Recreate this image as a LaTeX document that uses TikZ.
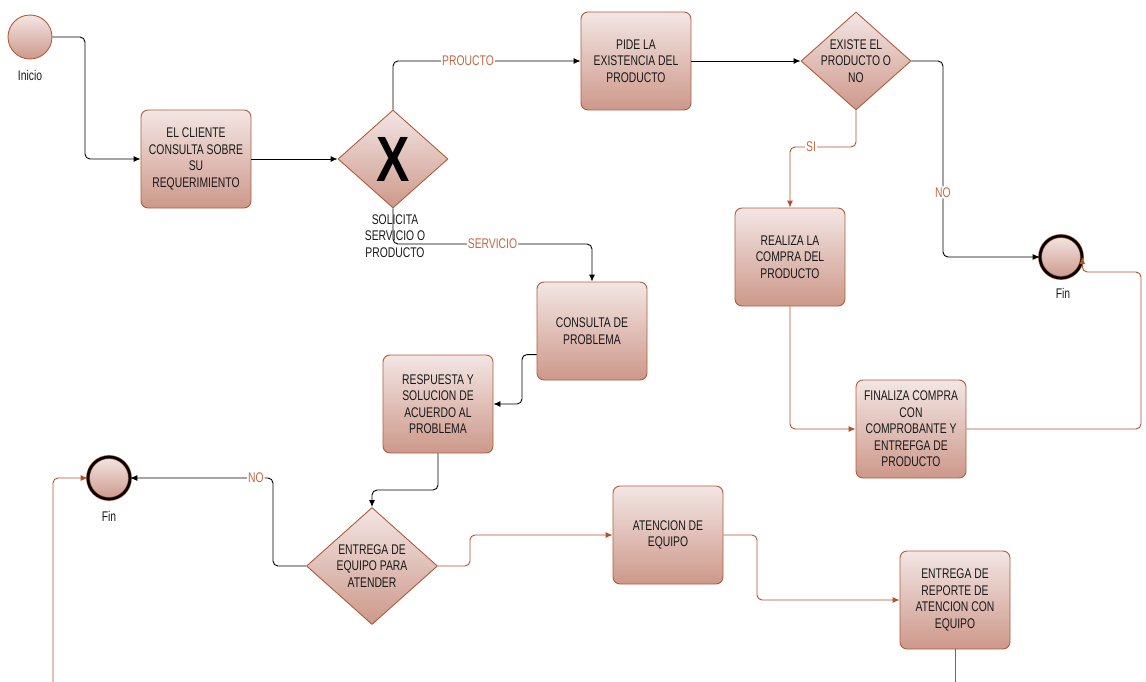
\documentclass[tikz,border=0pt]{standalone}
\usepackage{fontspec}
\newfontfamily\diagfont{Liberation Sans}[FakeStretch=0.74]
\newfontfamily\bigxfont{Liberation Sans}[FakeStretch=0.78]
\usetikzlibrary{shapes.geometric,arrows.meta,calc}

\definecolor{topc}{RGB}{243,230,228}
\definecolor{botc}{RGB}{205,152,138}
\definecolor{bordc}{RGB}{176,92,58}
\definecolor{edgeo}{RGB}{176,82,44}
\definecolor{labc}{RGB}{194,104,66}
\definecolor{txtc}{RGB}{25,25,25}

\tikzset{
  txt/.style={font=\diagfont\fontsize{14}{16.5}\selectfont, text=txtc, align=center},
  task/.style={rounded corners=7, draw=bordc, line width=0.9, top color=topc, bottom color=botc,
               minimum width=110, minimum height=98, inner sep=0, txt},
  gate/.style={diamond, draw=bordc, line width=0.9, top color=topc, bottom color=botc, inner sep=0},
  startev/.style={circle, draw=bordc, line width=0.9, top color=topc, bottom color=botc,
                  minimum size=44, inner sep=0},
  endev/.style={circle, draw=bordc, double=black, double distance=2.6, line width=0.6,
                top color=topc, bottom color=botc, minimum size=42, inner sep=0},
  lab/.style={fill=white, text=labc, inner sep=1, font=\diagfont\fontsize{14}{15}\selectfont},
  blk/.style={draw=black, line width=0.9, rounded corners=5, -{Latex[length=7,width=6]}},
  org/.style={draw=edgeo, line width=0.9, rounded corners=5, -{Latex[length=7,width=6]}},
}

\begin{document}
\begin{tikzpicture}[x=1pt,y=-1pt]
\useasboundingbox (0,0) rectangle (1146,682);

% events
\node[startev] (start) at (30,37) {};
\node[txt] (startlab) at (30,75) {Inicio};
\node[endev] (fin1) at (1061,257) {};
\node[txt] (fin1lab) at (1063,293) {Fin};
\node[endev] (fin2) at (109,478) {};
\node[txt] (fin2lab) at (109,516) {Fin};

% tasks
\node[task] (t1) at (196,159) {EL CLIENTE\\CONSULTA SOBRE\\SU\\REQUERIMIENTO};
\node[task] (pide) at (636,61) {PIDE LA\\EXISTENCIA DEL\\PRODUCTO};
\node[task] (real) at (790,257) {REALIZA LA\\COMPRA DEL\\PRODUCTO};
\node[task] (fina) at (911,429) {FINALIZA COMPRA\\CON\\COMPROBANTE Y\\ENTREFGA DE\\PRODUCTO};
\node[task] (cons) at (592,331) {CONSULTA DE\\PROBLEMA};
\node[task] (resp) at (438,404) {RESPUESTA Y\\SOLUCION DE\\ACUERDO AL\\PROBLEMA};
\node[task] (aten) at (668,535) {ATENCION DE\\EQUIPO};
\node[task] (entr) at (955,600) {ENTREGA DE\\REPORTE DE\\ATENCION CON\\EQUIPO};

% gateways
\node[gate, minimum width=110, minimum height=98] (gw) at (393,159) {};
\node[font=\bigxfont\bfseries\fontsize{64}{64}\selectfont, text=black] (gwx) at (gw.center) {X};
\node[gate, minimum width=110, minimum height=98] (d2) at (856,61) {};
\node[txt] (d2txt) at (d2.center) {EXISTE EL\\PRODUCTO O\\NO};
\node[gate, minimum width=131, minimum height=117] (d3) at (372,566) {};
\node[txt] (d3txt) at (d3.center) {ENTREGA DE\\EQUIPO PARA\\ATENDER};

% loose ends of the flows that leave the sheet
\coordinate (inl) at (53,690);
\coordinate (outr) at (955,690);

% black flows
\draw[blk] (start.east) -| (85,120) |- (t1.west);
\draw[blk] (t1.east) -- (gw.west);
\draw[blk] (gw.north) |- (pide.west) node[lab, pos=0.7] (lprod) {PROUCTO};
\draw[blk] (gw.south) -- (393,244) -| (cons.north) node[lab, pos=0.25] (lserv) {SERVICIO};
\draw[blk] (pide.east) -- (d2.west);
\draw[blk] (d2.east) -- (943,61) -- (943,257) node[lab, pos=0.67] (lno1) {NO} -- (fin1.west);
\draw[blk] (cons.west |- resp.north) -| (522,380) |- (resp.east);
\draw[blk] (resp.south) -- (438,490) -| (d3.north);
\draw[blk] (d3.west) -| (273,520) |- (fin2.east) node[lab, pos=0.56] (lno2) {NO};

% gateway caption drawn over its outgoing flow
\node[txt] (gwlab) at (395,236) {SOLICITA\\SERVICIO O\\PRODUCTO};

% orange flows
\draw[org] (d2.south) -- (856,147) -| (real.north) node[lab, pos=0.34] (lsi) {SI};
\draw[org] (real.south) |- (fina.west);
\draw[org] (fina.east) -| (1141,272) -| (fin1.east);
\draw[org] (inl) |- (fin2.west);
\draw[org] (d3.east) -| (470,550) |- (aten.west);
\draw[org] (aten.east) -| (757,570) |- (entr.west);
\draw[draw=edgeo, line width=0.9] (entr.south) -- (outr);
\end{tikzpicture}
\end{document}
